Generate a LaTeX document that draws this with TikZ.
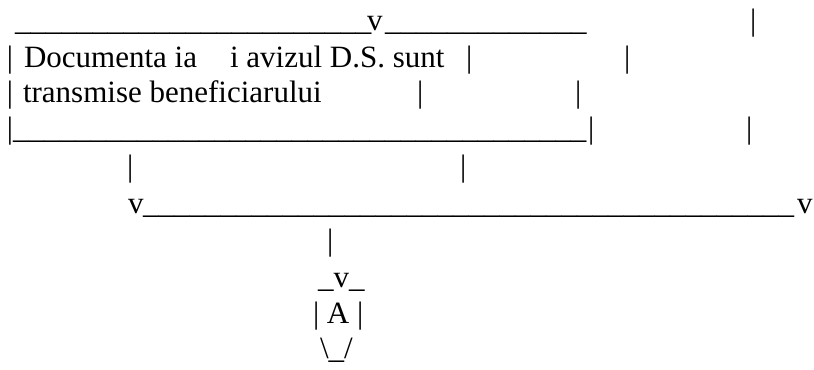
\documentclass[tikz,border=0pt]{standalone}
\usepackage{fontspec}
\setmainfont{Liberation Serif}
\newcommand\usc[1]{\foreach \k in {1,...,#1}{\_}}
\tikzset{txt/.style={anchor=base west, inner sep=0pt, outer sep=0pt, font=\fontsize{23.25}{28}\selectfont}}
\begin{document}
\begin{tikzpicture}[x=0.75pt, y=-0.75pt]
\useasboundingbox (0,0) rectangle (814,369);
% line 1
\node[txt] (l1a) at (15,30) {\usc{23}};
\node[txt] (l1v) at (367,30) {v};
\node[txt] (l1b) at (385,30) {\usc{13}};
\node[txt] (l1bar) at (750,30) {|};
% line 2
\node[txt] (l2bar) at (7,67) {|};
\node[txt] (l2t1) at (24,67) {Documenta ia};
\node[txt] (l2t2) at (230,67) {i avizul D.S. sunt};
\node[txt] (l2barb) at (466,67) {|};
\node[txt] (l2barc) at (624,67) {|};
% line 3
\node[txt] (l3bar) at (7,102) {|};
\node[txt] (l3t) at (23,102) {transmise beneficiarului};
\node[txt] (l3barb) at (417,102) {|};
\node[txt] (l3barc) at (575,102) {|};
% line 4
\node[txt] (l4bar) at (7,138) {|};
\node[txt] (l4u) at (13,138) {\usc{37}};
\node[txt] (l4barb) at (588,138) {|};
\node[txt] (l4barc) at (746,138) {|};
% line 5
\node[txt] (l5a) at (127,176) {|};
\node[txt] (l5b) at (460,176) {|};
% line 6
\node[txt] (l6v) at (128,213) {v};
\node[txt] (l6u) at (143,213) {\usc{42}};
\node[txt] (l6vb) at (797,213) {v};
% line 7
\node[txt] (l7) at (327,250) {|};
% lines 8-10
\node[txt] (l8) at (318,287) {\_v\_};
\node[txt] (l9) at (313,323) {| A |};
\node[txt] (l10) at (320,358) {\textbackslash\_/};
\end{tikzpicture}
\end{document}
